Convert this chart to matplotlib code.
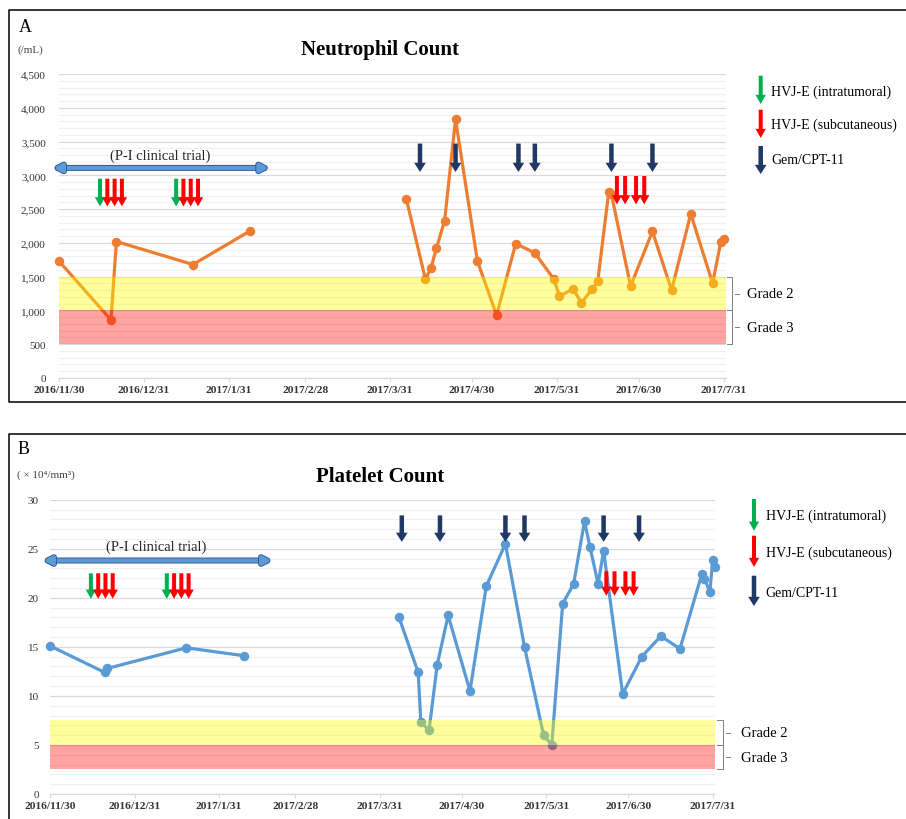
import matplotlib
matplotlib.use('Agg')
import matplotlib.pyplot as plt
import matplotlib.dates as mdates
import matplotlib.patheffects as pe
from matplotlib.ticker import MultipleLocator, FuncFormatter
from matplotlib.lines import Line2D
import pandas as pd

plt.rcParams['font.family'] = ['Liberation Serif', 'DejaVu Serif']

# ---------------- data ----------------
neut_dates_1 = ['2016-11-30', '2016-12-19', '2016-12-21', '2017-01-18', '2017-02-08']
neut_values_1 = [1730, 860, 2020, 1680, 2180]
neut_dates_2 = ['2017-04-06', '2017-04-13', '2017-04-15', '2017-04-17', '2017-04-20', '2017-04-24',
                '2017-05-02', '2017-05-09', '2017-05-16', '2017-05-23', '2017-05-30', '2017-06-01',
                '2017-06-06', '2017-06-09', '2017-06-13', '2017-06-15', '2017-06-19', '2017-06-20',
                '2017-06-27', '2017-07-05', '2017-07-12', '2017-07-19', '2017-07-27', '2017-07-30',
                '2017-07-31']
neut_values_2 = [2650, 1460, 1630, 1920, 2330, 3830,
                 1730, 930, 1990, 1850, 1460, 1210,
                 1320, 1110, 1320, 1430, 2750, 2720,
                 1360, 2170, 1300, 2430, 1400, 2020,
                 2060]

plt_dates_1 = ['2016-11-30', '2016-12-20', '2016-12-21', '2017-01-19', '2017-02-09']
plt_values_1 = [15.1, 12.4, 12.8, 14.9, 14.1]
plt_dates_2 = ['2017-04-07', '2017-04-14', '2017-04-15', '2017-04-18', '2017-04-21', '2017-04-25',
               '2017-05-03', '2017-05-09', '2017-05-16', '2017-05-23', '2017-05-30', '2017-06-02',
               '2017-06-06', '2017-06-10', '2017-06-14', '2017-06-16', '2017-06-19', '2017-06-21',
               '2017-06-28', '2017-07-05', '2017-07-12', '2017-07-19', '2017-07-27', '2017-07-28',
               '2017-07-30', '2017-07-31', '2017-08-01']
plt_values_2 = [18.0, 12.4, 7.3, 6.5, 13.2, 18.2,
                10.5, 21.2, 25.5, 15.0, 6.0, 5.0,
                19.4, 21.4, 27.8, 25.2, 21.4, 24.8,
                10.2, 14.0, 16.1, 14.8, 22.4, 21.9,
                20.6, 23.9, 23.1]

tick_dates = ['2016-11-30', '2016-12-31', '2017-01-31', '2017-02-28', '2017-03-31',
              '2017-04-30', '2017-05-31', '2017-06-30', '2017-07-31']
tick_labels = ['2016/11/30', '2016/12/31', '2017/1/31', '2017/2/28', '2017/3/31',
               '2017/4/30', '2017/5/31', '2017/6/30', '2017/7/31']
x_start, x_end = '2016-11-30', '2017-08-01'

# treatment events
hvj_intra_dates = ['2016-12-15', '2017-01-11 20:00']
hvj_subq_dates_early = ['2016-12-17 16:00', '2016-12-20 08:00', '2016-12-23',
                        '2017-01-14 12:00', '2017-01-17 04:00', '2017-01-19 20:00']
hvj_subq_dates_late = ['2017-06-22', '2017-06-25', '2017-06-29', '2017-07-02']
gem_dates_A = ['2017-04-11', '2017-04-24', '2017-05-17', '2017-05-23', '2017-06-20', '2017-07-05']
gem_dates_B = ['2017-04-08', '2017-04-22', '2017-05-16', '2017-05-23', '2017-06-21', '2017-07-04']
trial_span_A = ['2016-11-27 20:00', '2017-02-14 20:00']
trial_span_B = ['2016-11-27 12:00', '2017-02-19 08:00']

legend_labels = ['HVJ-E (intratumoral)', 'HVJ-E (subcutaneous)', 'Gem/CPT-11']
grade_labels = ['Grade 2', 'Grade 3']

# ---------------- styles ----------------
W, H = 906, 820
ORANGE = '#ED7D31'
BLUE = '#5B9BD5'
GREEN = '#00B050'
RED = '#FF0000'
NAVY = '#1F3864'


def d(s):
    return mdates.date2num(pd.to_datetime(s))


def dl(lst):
    return [d(s) for s in lst]


fig = plt.figure(figsize=(W / 100, H / 100), dpi=100)


def fx(px):
    return px / W


def fy(py):
    return 1 - py / H


def axes_px(l, r, t, b):
    return fig.add_axes([fx(l), fy(b), fx(r) - fx(l), fy(t) - fy(b)])


def down_arrow(ax, x, ytop, ybot, color, coords='data', hw=0.62, hl=0.55, tw=0.24):
    ax.annotate('', xy=(x, ybot), xytext=(x, ytop), xycoords=coords, textcoords=coords,
                annotation_clip=False,
                arrowprops=dict(arrowstyle=f'simple,head_length={hl},head_width={hw},tail_width={tw}',
                                mutation_scale=12, color=color, lw=0, shrinkA=0, shrinkB=0),
                zorder=8)


def setup_axes(ax, ymax, major, minor, fmt, ypad):
    ax.set_xlim(d(x_start), d(x_end))
    ax.set_ylim(0, ymax)
    ax.yaxis.set_major_locator(MultipleLocator(major))
    ax.yaxis.set_minor_locator(MultipleLocator(minor))
    ax.yaxis.set_major_formatter(FuncFormatter(fmt))
    ax.grid(which='major', axis='y', color='#D9D9D9', lw=0.9)
    ax.grid(which='minor', axis='y', color='#F0F0F0', lw=0.9)
    ax.set_axisbelow(True)
    for s in ['top', 'right', 'left']:
        ax.spines[s].set_visible(False)
    ax.spines['bottom'].set_color('#D9D9D9')
    ax.spines['bottom'].set_linewidth(0.9)
    ax.set_xticks(dl(tick_dates))
    ax.set_xticklabels(tick_labels, fontsize=8.2, fontweight='bold', color='#333333')
    ax.tick_params(axis='x', length=3, color='#D9D9D9', pad=2)
    ax.tick_params(axis='y', which='both', length=0, pad=ypad, labelsize=8, labelcolor='#333333')


def bracket(ax, ytop, ymid, ybot, xb, xe, xt0, xt1, xtext, fs=10.5):
    tr = ax.get_yaxis_transform()
    for (a, b) in [(ytop, ymid), (ymid, ybot)]:
        ax.add_line(Line2D([xe, xb, xb, xe], [a, a, b, b], transform=tr, color='#7F7F7F',
                           lw=0.7, clip_on=False))
        m = (a + b) / 2
        ax.add_line(Line2D([xt0, xt1], [m, m], transform=tr, color='#7F7F7F', lw=0.7, clip_on=False))
    ax.text(xtext, (ytop + ymid) / 2, grade_labels[0], transform=tr, va='center', ha='left', fontsize=fs)
    ax.text(xtext, (ymid + ybot) / 2, grade_labels[1], transform=tr, va='center', ha='left', fontsize=fs)


def trial_arrow(ax, span, y, label, ylab, xlab):
    ax.annotate('', xy=(d(span[1]), y), xytext=(d(span[0]), y), annotation_clip=False,
                arrowprops=dict(arrowstyle='<|-|>,head_length=0.38,head_width=0.2',
                                mutation_scale=12, color=BLUE, lw=3.0, shrinkA=0, shrinkB=0,
                                path_effects=[pe.Stroke(linewidth=4.3, foreground='#2F5597'), pe.Normal()]),
                zorder=8)
    ax.text(d(xlab), ylab, label, ha='center', va='center', fontsize=10.5, color='#262626')


def legend(ax, x, ys, ty, tx):
    cols = [GREEN, RED, NAVY]
    for (y0, y1), c, t, lab in zip(ys, cols, ty, legend_labels):
        fig.text(fx(tx), fy(t), lab, fontsize=10, va='center', ha='left')
        if c == NAVY:
            down_arrow(ax, fx(x), fy(y0), fy(y1), c, coords='figure fraction', hw=0.7, tw=0.27)
        else:
            down_arrow(ax, fx(x), fy(y0), fy(y1), c, coords='figure fraction')


LW, MS = 2.3, 5.8

# ---------------- panel A ----------------
axA = axes_px(59, 726.3, 75, 379)
setup_axes(axA, 4500, 500, 100, lambda v, p: f'{int(v):,}', 9.5)
axA.axhspan(1000, 1500, color=(1, 1, 0), alpha=0.38, lw=0, zorder=5)
axA.axhspan(500, 1000, color=(1, 0, 0), alpha=0.36, lw=0, zorder=5)
for ds, vs in [(neut_dates_1, neut_values_1), (neut_dates_2, neut_values_2)]:
    axA.plot(dl(ds), vs, color=ORANGE, lw=LW, marker='o', ms=MS, zorder=3, clip_on=False)

trial_arrow(axA, trial_span_A, 3110, '(P-I clinical trial)', 3300, '2017-01-06')
for x in dl(hvj_intra_dates):
    down_arrow(axA, x, 2950, 2540, GREEN)
for x in dl(hvj_subq_dates_early):
    down_arrow(axA, x, 2950, 2540, RED)
for x in dl(hvj_subq_dates_late):
    down_arrow(axA, x, 2990, 2570, RED)
for x in dl(gem_dates_A):
    down_arrow(axA, x, 3470, 3050, NAVY, hw=0.7, tw=0.27)
bracket(axA, 1500, 1000, 500, 1.008, 1.0005, 1.013, 1.019, 1.031)

# ---------------- panel B ----------------
axB = axes_px(50, 715.4, 500.7, 795)
setup_axes(axB, 30, 5, 1, lambda v, p: f'{int(v)}', 8)
axB.axhspan(5, 7.5, color=(1, 1, 0), alpha=0.38, lw=0, zorder=5)
axB.axhspan(2.5, 5, color=(1, 0, 0), alpha=0.36, lw=0, zorder=5)
for ds, vs in [(plt_dates_1, plt_values_1), (plt_dates_2, plt_values_2)]:
    axB.plot(dl(ds), vs, color=BLUE, lw=LW, marker='o', ms=MS, zorder=3, clip_on=False)

trial_arrow(axB, trial_span_B, 23.8, '(P-I clinical trial)', 25.3, '2017-01-08')
for x in dl(hvj_intra_dates):
    down_arrow(axB, x, 22.5, 19.9, GREEN)
for x in dl(hvj_subq_dates_early):
    down_arrow(axB, x, 22.5, 19.9, RED)
for x in dl(hvj_subq_dates_late):
    down_arrow(axB, x, 22.7, 20.2, RED)
for x in dl(gem_dates_B):
    down_arrow(axB, x, 28.4, 25.7, NAVY, hw=0.7, tw=0.27)
bracket(axB, 7.5, 5, 2.5, 1.012, 1.0025, 1.016, 1.022, 1.038)

# ---------------- legends ----------------
legend(axA, 760.7, [(76.7, 105), (110.7, 139), (147, 175)], [92.3, 125.7, 161], 771)
legend(axB, 754, [(500, 531.7), (536.7, 568), (576.7, 607)], [516.7, 553.3, 593.3], 765.7)

# ---------------- titles and frames ----------------
fig.text(fx(380), fy(50), 'Neutrophil Count', ha='center', va='center', fontsize=15, fontweight='bold')
fig.text(fx(380), fy(477), 'Platelet Count', ha='center', va='center', fontsize=15, fontweight='bold')
fig.text(fx(19), fy(27), 'A', ha='left', va='center', fontsize=13)
fig.text(fx(18), fy(450), 'B', ha='left', va='center', fontsize=13)
fig.text(fx(18), fy(50), '(/mL)', ha='left', va='center', fontsize=8, color='#404040')
fig.text(fx(17), fy(475), '( × 10⁴/mm³)', ha='left', va='center', fontsize=8, color='#404040')

for pts in [[(W + 5, 11), (9, 11), (9, 403.3), (W + 5, 403.3)],
            [(W + 5, 435), (9, 435), (9, H + 5)]]:
    xs = [fx(p[0]) for p in pts]
    ys = [fy(p[1]) for p in pts]
    fig.add_artist(Line2D(xs, ys, color='black', lw=1.1, transform=fig.transFigure))

fig.savefig('out.png', dpi=100)
